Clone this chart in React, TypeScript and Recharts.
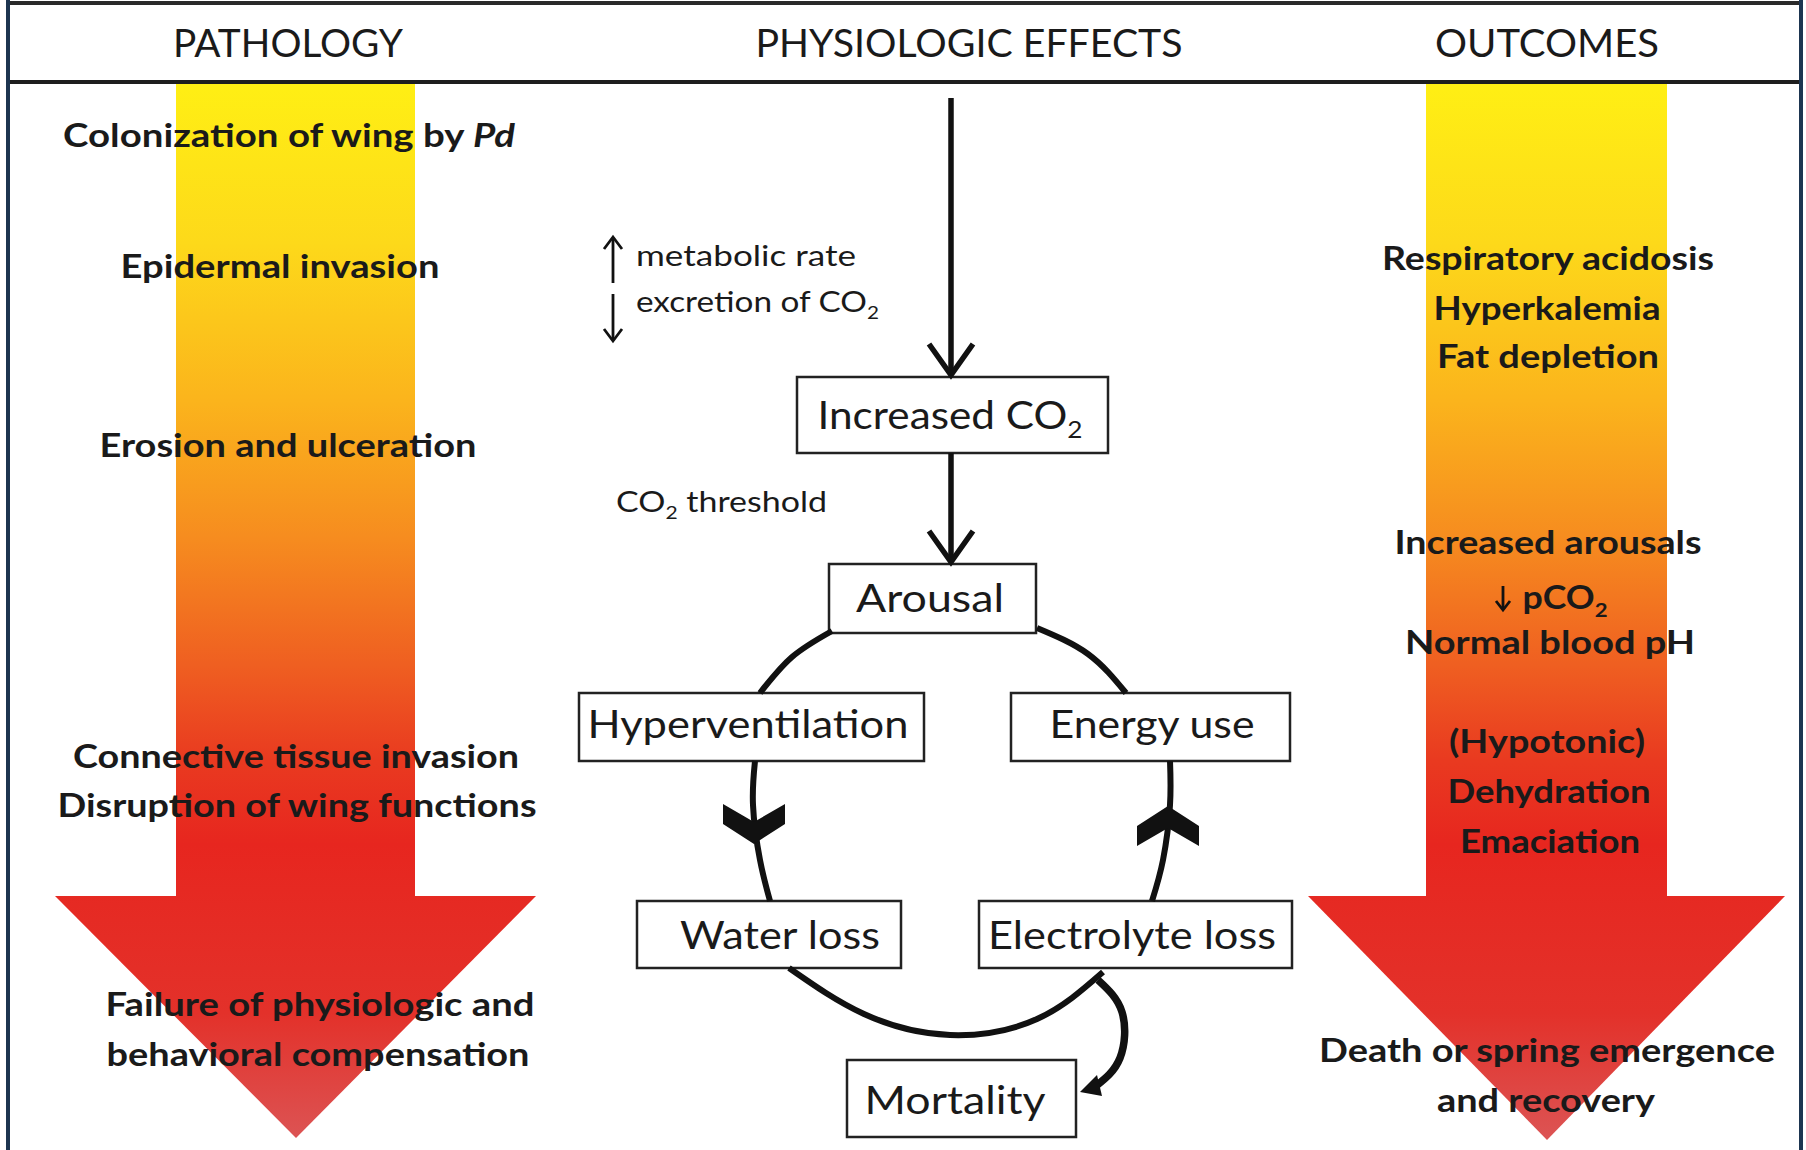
import React from 'react';
import {
  ComposedChart,
  XAxis,
  YAxis,
  Line,
  Area,
  Scatter,
  ReferenceArea,
  ReferenceLine,
} from 'recharts';

// ---------- diagram data (diagram units = picture pixels) ----------
const headerLabels = [
  { x: 288, y: 43, text: 'PATHOLOGY' },
  { x: 969, y: 43, text: 'PHYSIOLOGIC EFFECTS' },
  { x: 1547, y: 43, text: 'OUTCOMES' },
];

const pathologyLabels = [
  { x: 289, y: 135, text: 'Colonization of wing by *Pd*' },
  { x: 280, y: 266, text: 'Epidermal invasion' },
  { x: 288, y: 445, text: 'Erosion and ulceration' },
  { x: 296, y: 756, text: 'Connective tissue invasion' },
  { x: 297, y: 805, text: 'Disruption of wing functions' },
  { x: 320, y: 1004, text: 'Failure of physiologic and' },
  { x: 318, y: 1054, text: 'behavioral compensation' },
];

const outcomeLabels = [
  { x: 1548, y: 258, text: 'Respiratory acidosis' },
  { x: 1547, y: 308, text: 'Hyperkalemia' },
  { x: 1548, y: 356, text: 'Fat depletion' },
  { x: 1548, y: 542, text: 'Increased arousals' },
  { x: 1565, y: 597, text: 'pCO_2' },
  { x: 1550, y: 642, text: 'Normal blood pH' },
  { x: 1547, y: 741, text: '(Hypotonic)' },
  { x: 1549, y: 791, text: 'Dehydration' },
  { x: 1550, y: 841, text: 'Emaciation' },
  { x: 1547, y: 1050, text: 'Death or spring emergence' },
  { x: 1546, y: 1100, text: 'and recovery' },
];

const effectNotes = [
  { x: 636, y: 256, text: 'metabolic rate' },
  { x: 636, y: 302, text: 'excretion of CO_2' },
  { x: 616, y: 502, text: 'CO_2 threshold' },
];

const boxes = [
  { id: 'co2', x1: 797, x2: 1108, y1: 377, y2: 453 },
  { id: 'arousal', x1: 829, x2: 1036, y1: 564, y2: 633 },
  { id: 'hyper', x1: 579, x2: 924, y1: 693, y2: 761 },
  { id: 'energy', x1: 1011, x2: 1290, y1: 693, y2: 761 },
  { id: 'water', x1: 637, x2: 901, y1: 901, y2: 968 },
  { id: 'electro', x1: 979, x2: 1292, y1: 901, y2: 968 },
  { id: 'mortality', x1: 847, x2: 1076, y1: 1060, y2: 1137 },
];

const boxLabels = [
  { x: 950, y: 415, text: 'Increased CO_2' },
  { x: 930, y: 598, text: 'Arousal' },
  { x: 748, y: 724, text: 'Hyperventilation' },
  { x: 1152, y: 724, text: 'Energy use' },
  { x: 780, y: 935, text: 'Water loss' },
  { x: 1132, y: 935, text: 'Electrolyte loss' },
  { x: 955, y: 1100, text: 'Mortality' },
];

// big gradient arrows: [top, bottom] ranges per x
const leftShaft = [
  { x: 176, range: [84, 900] },
  { x: 415, range: [84, 900] },
];
const leftHead = [
  { x: 55, range: [896, 896] },
  { x: 296, range: [896, 1138] },
  { x: 536, range: [896, 896] },
];
const rightShaft = [
  { x: 1426, range: [84, 900] },
  { x: 1667, range: [84, 900] },
];
const rightHead = [
  { x: 1308, range: [896, 896] },
  { x: 1547, range: [896, 1140] },
  { x: 1785, range: [896, 896] },
];

// connectors
const mainShaft1 = [{ x: 951, y: 98 }, { x: 951, y: 372 }];
const mainHead1 = [{ x: 929, y: 344 }, { x: 951, y: 375 }, { x: 973, y: 344 }];
const mainShaft2 = [{ x: 951, y: 453 }, { x: 951, y: 558 }];
const mainHead2 = [{ x: 929, y: 531 }, { x: 951, y: 562 }, { x: 973, y: 531 }];

const arcUpperLeft = [{ x: 832, y: 631 }, { x: 792, y: 657 }, { x: 760, y: 693 }];
const arcUpperRight = [{ x: 1037, y: 628 }, { x: 1088, y: 654 }, { x: 1126, y: 693 }];
const arcLowerLeft = [{ x: 755, y: 761 }, { x: 753, y: 805 }, { x: 760, y: 860 }, { x: 770, y: 901 }];
const arcLowerRight = [{ x: 1170, y: 761 }, { x: 1170, y: 805 }, { x: 1163, y: 860 }, { x: 1152, y: 901 }];
const arcBottom = [
  { x: 789, y: 968 },
  { x: 864, y: 1014 },
  { x: 950, y: 1035 },
  { x: 1037, y: 1019 },
  { x: 1103, y: 972 },
];
const mortalityArc = [
  { x: 1098, y: 980 },
  { x: 1122, y: 1012 },
  { x: 1120, y: 1058 },
  { x: 1096, y: 1086 },
];

const upArrowShaft = [{ x: 613, y: 283 }, { x: 613, y: 238 }];
const upArrowHead = [{ x: 604, y: 249 }, { x: 613, y: 237 }, { x: 622, y: 249 }];
const downArrowShaft = [{ x: 613, y: 294 }, { x: 613, y: 340 }];
const downArrowHead = [{ x: 604, y: 329 }, { x: 613, y: 341 }, { x: 622, y: 329 }];
const pco2ArrowShaft = [{ x: 1503, y: 586 }, { x: 1503, y: 609 }];
const pco2ArrowHead = [{ x: 1496, y: 601 }, { x: 1503, y: 610 }, { x: 1510, y: 601 }];

const markers = [
  { x: 754, y: 826, kind: 'down' },
  { x: 1168, y: 824, kind: 'up' },
  { x: 1093, y: 1088, kind: 'tip' },
];

// ---------- styling ----------
const TEXT_WIDTHS: Record<string, number> = {
  PATHOLOGY: 230,
  'PHYSIOLOGIC EFFECTS': 427,
  OUTCOMES: 224,
  'Colonization of wing by *Pd*': 452,
  'Epidermal invasion': 319,
  'Erosion and ulceration': 377,
  'Connective tissue invasion': 446,
  'Disruption of wing functions': 479,
  'Failure of physiologic and': 429,
  'behavioral compensation': 423,
  'Respiratory acidosis': 332,
  Hyperkalemia: 227,
  'Fat depletion': 222,
  'Increased arousals': 307,
  pCO_2: 85,
  'Normal blood pH': 290,
  '(Hypotonic)': 196,
  Dehydration: 203,
  Emaciation: 180,
  'Death or spring emergence': 456,
  'and recovery': 218,
  'metabolic rate': 220,
  'excretion of CO_2': 243,
  'CO_2 threshold': 211,
  'Increased CO_2': 265,
  Arousal: 148,
  Hyperventilation: 321,
  'Energy use': 205,
  'Water loss': 200,
  'Electrolyte loss': 288,
  Mortality: 181,
};

const FONT = 'Lato, "Open Sans", "DejaVu Sans", sans-serif';
const INK = '#1a1a1a';

type TStyle = { fontSize: number; weight: number; anchor: 'start' | 'middle' };
const headerStyle: TStyle = { fontSize: 39, weight: 400, anchor: 'middle' };
const columnStyle: TStyle = { fontSize: 32, weight: 700, anchor: 'middle' };
const noteStyle: TStyle = { fontSize: 28, weight: 400, anchor: 'start' };
const boxStyle: TStyle = { fontSize: 38, weight: 400, anchor: 'middle' };

function richParts(text: string, fontSize: number) {
  const re = /(\*[^*]+\*|_\d)/g;
  const parts: { t: string; k: string }[] = [];
  let last = 0;
  let m: RegExpExecArray | null;
  while ((m = re.exec(text))) {
    if (m.index > last) parts.push({ t: text.slice(last, m.index), k: 'n' });
    if (m[0][0] === '*') parts.push({ t: m[0].slice(1, -1), k: 'i' });
    else parts.push({ t: m[0].slice(1), k: 's' });
    last = re.lastIndex;
  }
  if (last < text.length) parts.push({ t: text.slice(last), k: 'n' });
  const shift = fontSize * 0.25;
  let shifted = false;
  return parts.map((p, i) => {
    if (p.k === 's') {
      shifted = true;
      return (
        <tspan key={i} fontSize={fontSize * 0.62} dy={shift}>
          {p.t}
        </tspan>
      );
    }
    const dy = shifted ? -shift : undefined;
    shifted = false;
    return (
      <tspan key={i} dy={dy} fontStyle={p.k === 'i' ? 'italic' : undefined}>
        {p.t}
      </tspan>
    );
  });
}

const makeLabelShape = (st: TStyle) => (props: any) => {
  const { cx, cy, payload } = props;
  if (cx == null || cy == null || !payload) return <g />;
  const w = TEXT_WIDTHS[payload.text];
  return (
    <text
      x={cx}
      y={cy + st.fontSize * 0.36}
      textAnchor={st.anchor}
      fontFamily={FONT}
      fontSize={st.fontSize}
      fontWeight={st.weight}
      fill={INK}
      textLength={w}
      lengthAdjust="spacingAndGlyphs"
    >
      {richParts(payload.text, st.fontSize)}
    </text>
  );
};

const markerShape = (props: any) => {
  const { cx, cy, payload } = props;
  if (cx == null || cy == null || !payload) return <g />;
  if (payload.kind === 'tip') {
    return (
      <polygon
        points={`${cx - 13},${cy + 4} ${cx + 4},${cy - 13} ${cx + 9},${cy + 8}`}
        fill="#111"
      />
    );
  }
  const s = payload.kind === 'down' ? 1 : -1;
  const pts = [
    [-31, -22],
    [0, -4],
    [31, -22],
    [31, -2],
    [0, 18],
    [-31, -2],
  ]
    .map(([dx, dy]) => `${cx + dx},${cy + s * dy}`)
    .join(' ');
  return <polygon points={pts} fill="#111" />;
};

const lineProps = {
  dataKey: 'y',
  stroke: '#111',
  strokeWidth: 5,
  dot: false,
  activeDot: false,
  isAnimationActive: false,
  legendType: 'none' as const,
};

export default function App() {
  return (
    <div style={{ width: 1806, height: 1150, background: '#fff' }}>
      <style>{'body{margin:0;background:#fff}'}</style>
      <ComposedChart width={1806} height={1150} margin={{ top: 0, right: 0, bottom: 0, left: 0 }}>
        <defs>
          <linearGradient id="heatGrad" gradientUnits="userSpaceOnUse" x1="0" y1="84" x2="0" y2="1140">
            <stop offset="0" stopColor="#FFEF14" />
            <stop offset="0.15" stopColor="#FDD91A" />
            <stop offset="0.3" stopColor="#FBB41C" />
            <stop offset="0.43" stopColor="#F68C1F" />
            <stop offset="0.55" stopColor="#EF5F21" />
            <stop offset="0.64" stopColor="#E93A20" />
            <stop offset="0.72" stopColor="#E7261F" />
            <stop offset="0.88" stopColor="#E3312A" />
            <stop offset="1" stopColor="#DC5454" />
          </linearGradient>
        </defs>
        <XAxis type="number" dataKey="x" domain={[0, 1806]} hide allowDataOverflow />
        <YAxis type="number" dataKey="y" domain={[0, 1150]} reversed hide allowDataOverflow />

        {[leftShaft, leftHead, rightShaft, rightHead].map((d, i) => (
          <Area
            key={'ar' + i}
            data={d}
            dataKey="range"
            type="linear"
            stroke="none"
            fill="url(#heatGrad)"
            fillOpacity={1}
            isAnimationActive={false}
            dot={false}
            activeDot={false}
          />
        ))}

        {/* frame */}
        <ReferenceLine segment={[{ x: 6, y: 3 }, { x: 1801, y: 3 }]} stroke="#2a2a2a" strokeWidth={4} ifOverflow="visible" />
        <ReferenceLine segment={[{ x: 6, y: 82 }, { x: 1801, y: 82 }]} stroke="#1e1e1e" strokeWidth={4} ifOverflow="visible" />
        <ReferenceLine segment={[{ x: 8, y: 0 }, { x: 8, y: 1150 }]} stroke="#1d3550" strokeWidth={4} ifOverflow="visible" />
        <ReferenceLine segment={[{ x: 1801, y: 0 }, { x: 1801, y: 1150 }]} stroke="#1d3550" strokeWidth={4} ifOverflow="visible" />

        {boxes.map((b) => (
          <ReferenceArea
            key={b.id}
            x1={b.x1}
            x2={b.x2}
            y1={b.y1}
            y2={b.y2}
            fill="#fff"
            fillOpacity={1}
            stroke="#222"
            strokeWidth={2.5}
            ifOverflow="visible"
          />
        ))}

        {[mainShaft1, mainHead1, mainShaft2, mainHead2].map((d, i) => (
          <Line key={'mn' + i} data={d} type="linear" {...lineProps} strokeWidth={5.5} />
        ))}
        {[arcUpperLeft, arcUpperRight, arcLowerLeft, arcLowerRight, arcBottom].map((d, i) => (
          <Line key={'ln' + i} data={d} type="natural" {...lineProps} strokeWidth={6} />
        ))}
        <Line data={mortalityArc} type="natural" {...lineProps} strokeWidth={7.5} />
        {[upArrowShaft, upArrowHead, downArrowShaft, downArrowHead, pco2ArrowShaft, pco2ArrowHead].map((d, i) => (
          <Line key={'sa' + i} data={d} type="linear" {...lineProps} strokeWidth={2.8} />
        ))}

        <Scatter data={markers} shape={markerShape} isAnimationActive={false} />
        <Scatter data={headerLabels} shape={makeLabelShape(headerStyle)} isAnimationActive={false} />
        <Scatter data={pathologyLabels} shape={makeLabelShape(columnStyle)} isAnimationActive={false} />
        <Scatter data={outcomeLabels} shape={makeLabelShape(columnStyle)} isAnimationActive={false} />
        <Scatter data={effectNotes} shape={makeLabelShape(noteStyle)} isAnimationActive={false} />
        <Scatter data={boxLabels} shape={makeLabelShape(boxStyle)} isAnimationActive={false} />
      </ComposedChart>
    </div>
  );
}
